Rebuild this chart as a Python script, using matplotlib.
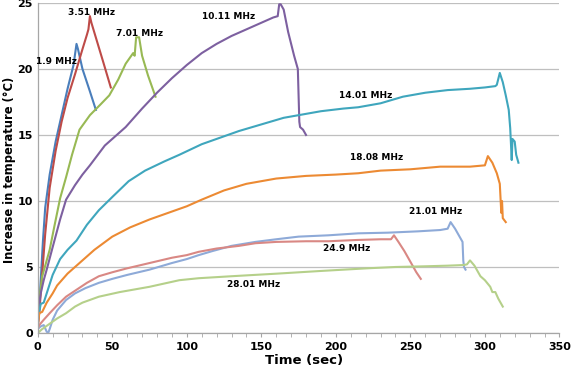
import matplotlib
matplotlib.use('Agg')
import matplotlib.pyplot as plt
from matplotlib.ticker import MultipleLocator

# series: time (sec), temperature rise (deg C)
t_1_9 = [0, 1, 2, 3.5, 5, 8, 12, 16, 20, 24, 26, 27, 30, 35, 39]
y_1_9 = [0.5, 2, 4, 7, 9.5, 12, 14.5, 16.5, 18.5, 20.3, 21.9, 21.5, 20, 18.3, 16.9]

t_3_51 = [0, 1, 3, 5, 8, 12, 16, 20, 25, 30, 33, 34, 35, 36, 40, 44, 49]
y_3_51 = [0.5, 1.5, 4.5, 7.5, 11, 13.8, 16, 17.8, 19.6, 21.5, 22.6, 23, 24, 23.5, 22, 20.5, 18.6]

t_7_01 = [0, 1, 3, 6, 8, 11, 15, 19, 23, 28, 35, 42, 48, 54, 59, 64, 65, 66, 68, 70, 74, 79]
y_7_01 = [1, 2.5, 4.3, 5.5, 6.3, 8, 10.2, 11.8, 13.5, 15.4, 16.5, 17.3, 18, 19.2, 20.4, 21.2,
          21, 22.4, 22.4, 21, 19.5, 17.9]

t_10_11 = [0, 2, 4, 6, 10, 15, 19, 25, 30, 35, 45, 59, 70, 80, 90, 100, 110, 120, 130, 140,
           150, 158, 161, 162, 163, 165, 168, 172, 174.5, 175, 175.5, 176, 178, 180]
y_10_11 = [1.5, 3, 4, 4.8, 6.5, 8.6, 10.1, 11.2, 12, 12.7, 14.2, 15.6, 17, 18.2, 19.3, 20.3,
           21.2, 21.9, 22.5, 23, 23.5, 23.9, 24, 24.9, 24.9, 24.5, 22.8, 21, 20, 18, 16,
           15.6, 15.4, 15.0]

t_14_01 = [0, 2, 4, 6, 10, 15, 20, 26, 33, 41, 50, 61, 72, 85, 95, 110, 125, 135, 150, 165,
           175, 190, 205, 215, 230, 245, 260, 275, 290, 300, 307, 308, 310, 312, 314, 316,
           317, 318, 318.5, 320, 321, 322.5]
y_14_01 = [1, 2.2, 2.3, 3, 4.4, 5.6, 6.3, 7, 8.2, 9.3, 10.3, 11.5, 12.3, 13, 13.5, 14.3,
           14.9, 15.3, 15.8, 16.3, 16.5, 16.8, 17, 17.1, 17.4, 17.9, 18.2, 18.4, 18.5, 18.6,
           18.7, 18.8, 19.7, 19.0, 18, 16.9, 15.5, 13.1, 14.7, 14.5, 13.5, 12.9]

t_18_08 = [0, 1, 3, 6, 10, 13, 20, 28, 38, 50, 62, 75, 90, 100, 110, 125, 140, 160, 180, 200,
           215, 230, 250, 270, 290, 300, 302, 305, 308, 310, 311, 311.5, 312, 314]
y_18_08 = [0.5, 1.5, 1.6, 2.3, 3, 3.6, 4.5, 5.3, 6.3, 7.3, 8, 8.6, 9.2, 9.6, 10.1, 10.8,
           11.3, 11.7, 11.9, 12.0, 12.1, 12.3, 12.4, 12.6, 12.6, 12.7, 13.4, 12.9, 12.1,
           11.3, 9.1, 10, 8.7, 8.4]

t_21_01 = [0, 2, 4, 6, 7, 8, 10, 13, 19, 25, 32, 41, 50, 60, 75, 90, 100, 108, 117, 130, 146,
           160, 175, 195, 215, 235, 255, 270, 275, 277, 280, 283, 285, 285.5, 286, 287]
y_21_01 = [0.3, 0.5, 0.6, 0.1, 0, 0.3, 1, 1.7, 2.5, 3, 3.4, 3.8, 4.1, 4.4, 4.8, 5.3, 5.6,
           5.9, 6.2, 6.6, 6.9, 7.1, 7.3, 7.4, 7.55, 7.6, 7.7, 7.8, 7.9, 8.4, 7.9, 7.3, 6.9,
           5.5, 5.0, 4.8]

t_24_9 = [0, 1, 4, 8, 13, 19, 25, 33, 41, 50, 60, 75, 90, 100, 108, 120, 135, 146, 160, 180,
          195, 215, 230, 237, 239, 242, 246, 251, 254, 257]
y_24_9 = [0.3, 0.6, 1, 1.5, 2.1, 2.75, 3.2, 3.8, 4.3, 4.6, 4.9, 5.3, 5.7, 5.9, 6.15, 6.4,
          6.6, 6.8, 6.9, 6.95, 6.95, 7.05, 7.1, 7.1, 7.4, 6.9, 6.2, 5.2, 4.6, 4.1]

t_28_01 = [0, 3, 8, 13, 19, 25, 30, 41, 55, 75, 95, 108, 130, 161, 190, 221, 240, 259, 275,
           286, 288, 290, 293, 297, 300, 303.6, 305, 307, 309, 312]
y_28_01 = [0, 0.3, 0.7, 1.1, 1.5, 2, 2.3, 2.75, 3.1, 3.5, 4.0, 4.15, 4.3, 4.5, 4.7, 4.9, 5.0,
           5.05, 5.1, 5.15, 5.2, 5.5, 5.1, 4.3, 4.0, 3.5, 3.1, 3.1, 2.6, 2.0]

series = [
    (t_1_9, y_1_9, '#4A7EBB', '1.9 MHz', 12.5, 20.6),
    (t_3_51, y_3_51, '#BE4B48', '3.51 MHz', 36, 24.3),
    (t_7_01, y_7_01, '#98B954', '7.01 MHz', 68, 22.7),
    (t_10_11, y_10_11, '#7D60A0', '10.11 MHz', 128, 24.0),
    (t_14_01, y_14_01, '#3FA6BD', '14.01 MHz', 220, 18.0),
    (t_18_08, y_18_08, '#EC8A33', '18.08 MHz', 227, 13.3),
    (t_21_01, y_21_01, '#8EAAD8', '21.01 MHz', 267, 9.2),
    (t_24_9, y_24_9, '#D98884', '24.9 MHz', 207, 6.4),
    (t_28_01, y_28_01, '#B5D08A', '28.01 MHz', 145, 3.7),
]

fig = plt.figure(figsize=(5.72, 3.70), dpi=100)
ax = fig.add_axes([0.066, 0.1, 0.912, 0.892])

for t, y, col, lab, lx, ly in series:
    ax.plot(t, y, color=col, lw=1.5)
    ax.text(lx, ly, lab, fontsize=6.5, fontweight='bold', ha='center', va='center')

ax.set_xlim(0, 350)
ax.set_ylim(0, 25)
ax.xaxis.set_major_locator(MultipleLocator(50))
ax.xaxis.set_minor_locator(MultipleLocator(10))
ax.yaxis.set_major_locator(MultipleLocator(5))
ax.grid(True, axis='y', color='#BFBFBF', lw=0.9)
ax.set_axisbelow(True)

for s in ['top', 'right']:
    ax.spines[s].set_visible(False)
for s in ['left', 'bottom']:
    ax.spines[s].set_color('#A6A6A6')
    ax.spines[s].set_linewidth(0.9)

ax.tick_params(axis='x', which='both', direction='out', color='#A6A6A6', length=3)
ax.tick_params(axis='y', length=0)
ax.tick_params(labelsize=8)
for lbl in ax.get_xticklabels() + ax.get_yticklabels():
    lbl.set_fontweight('bold')

ax.set_xlabel('Time (sec)', fontsize=9.5, fontweight='bold', labelpad=2)
ax.xaxis.set_label_coords(0.51, -0.065)
ax.set_ylabel('Increase in temperature (\u00b0C)', fontsize=8.3, fontweight='bold', va='center')
ax.yaxis.set_label_coords(-0.055, 0.495)

fig.savefig('out.png', dpi=100)
